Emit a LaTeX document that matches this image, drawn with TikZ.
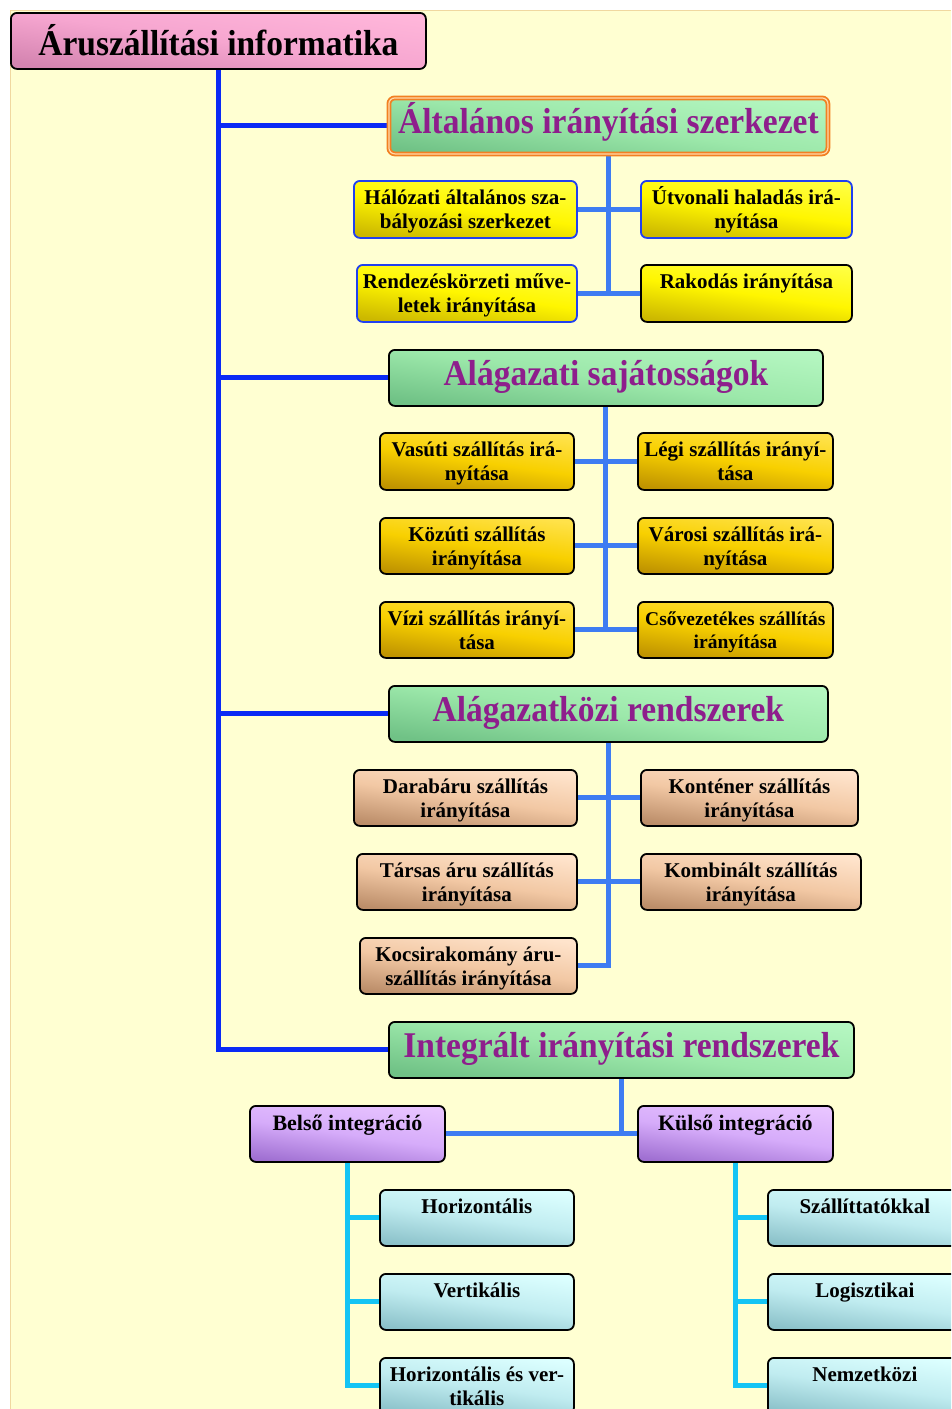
\documentclass[tikz,border=0pt]{standalone}
\usepackage{fontspec}
\setmainfont{Liberation Serif}
\definecolor{paper}{HTML}{FFFFD2}
\definecolor{paperedge}{HTML}{F0D8A0}
\definecolor{mainblue}{HTML}{0A2AF5}
\definecolor{subblue}{HTML}{3E7CF2}
\definecolor{cyanln}{HTML}{14C4F4}
\definecolor{edgeblue}{HTML}{2040F0}
\definecolor{headtxt}{HTML}{8E1E8C}
\definecolor{frameorange}{HTML}{F28022}
\definecolor{frameinner}{HTML}{FFD8A8}
\definecolor{pinkA}{HTML}{FFB6DA}
\definecolor{pinkM}{HTML}{F6A6D0}
\definecolor{pinkB}{HTML}{D484B0}
\definecolor{greenA}{HTML}{B4F6C0}
\definecolor{greenM}{HTML}{9CE8AA}
\definecolor{greenB}{HTML}{70C286}
\definecolor{ylwA}{HTML}{FFFF40}
\definecolor{ylwM}{HTML}{FFF600}
\definecolor{ylwB}{HTML}{CCB800}
\definecolor{goldA}{HTML}{FFE24A}
\definecolor{goldM}{HTML}{F8D000}
\definecolor{goldB}{HTML}{C09400}
\definecolor{tanA}{HTML}{FFE4CC}
\definecolor{tanM}{HTML}{F2C8A4}
\definecolor{tanB}{HTML}{BC8E6A}
\definecolor{lilacA}{HTML}{E8C4FF}
\definecolor{lilacM}{HTML}{D6ACFA}
\definecolor{lilacB}{HTML}{A070D2}
\definecolor{iceA}{HTML}{DCFFFF}
\definecolor{iceM}{HTML}{C0ECF0}
\definecolor{iceB}{HTML}{8CC2CA}
\pgfdeclarelayer{bg}
\pgfsetlayers{bg,main}
\newcommand{\firstline}{\rule{0pt}{20pt}}
\newcommand{\tall}[1]{\scalebox{1}[1.08]{#1}}
\begin{document}
\begin{tikzpicture}[x=1pt,y=-1pt,
  sz/.style 2 args={minimum width=#1pt, minimum height=#2pt},
  box/.style={rounded corners=6pt, line width=1.8pt, draw=black, inner sep=0pt, anchor=north west},
  grad/.style n args={3}{top color=#1, bottom color=#3, middle color=#2, shading angle=-8},
  titlebox/.style={box, grad={pinkA}{pinkM}{pinkB}, text height=30pt, text depth=0pt,
    font=\fontsize{33.5}{38}\selectfont\bfseries},
  headbox/.style={box, grad={greenA}{greenM}{greenB}, text height=22pt, text depth=6pt,
    text=headtxt, font=\fontsize{33.5}{38}\selectfont\bfseries},
  ylw/.style={box, draw=edgeblue, grad={ylwA}{ylwM}{ylwB}},
  gold/.style={box, grad={goldA}{goldM}{goldB}},
  tan/.style={box, grad={tanA}{tanM}{tanB}},
  lilac/.style={box, grad={lilacA}{lilacM}{lilacB}},
  ice/.style={box, grad={iceA}{iceM}{iceB}},
  lab/.style={anchor=north, inner sep=0pt, align=center,
    font=\fontsize{21}{24}\selectfont\bfseries},
  mainln/.style={draw=mainblue, line width=5pt},
  subln/.style={draw=subblue, line width=5pt},
  cyanl/.style={draw=cyanln, line width=5pt},
]
\clip (0,0) rectangle (951,1409);

% ---- root and the four main branches ----
\node[titlebox, sz={415}{56}] (title) at (10,12) {\tall{Áruszállítási informatika}};
\node[headbox, sz={439}{56}, draw=frameorange, line width=1.8pt,
      double=frameinner, double distance=1.2pt] (g1) at (388,97) {\tall{Általános irányítási szerkezet}};
\node[headbox, sz={434}{56}] (g2) at (388,349) {\tall{Alágazati sajátosságok}};
\node[headbox, sz={439}{56}] (g3) at (388,685) {\tall{Alágazatközi rendszerek}};
\node[headbox, sz={465}{56}] (g4) at (388,1021) {\tall{Integrált irányítási rendszerek}};

% ---- general control structure ----
\node[ylw, sz={223}{57}] (a1) at (353,180) {};
\node[ylw, sz={211}{57}] (a2) at (640,180) {};
\node[ylw, sz={220}{57}] (a3) at (356,264) {};
\node[ylw, draw=black, sz={211}{57}] (a4) at (640,264) {};
\node[lab] (a1t) at ([yshift=-4pt]a1.north) {\firstline Hálózati általános sza-\\bályozási szerkezet};
\node[lab] (a2t) at ([yshift=-4pt]a2.north) {\firstline Útvonali haladás irá-\\nyítása};
\node[lab] (a3t) at ([yshift=-4pt]a3.north) {\firstline Rendezéskörzeti műve-\\letek irányítása};
\node[lab] (a4t) at ([yshift=-4pt]a4.north) {\firstline Rakodás irányítása};

% ---- sector specifics ----
\node[gold, sz={194}{57}] (b1) at (379,432) {};
\node[gold, sz={195}{57}] (b2) at (637,432) {};
\node[gold, sz={194}{56}] (b3) at (379,517) {};
\node[gold, sz={195}{56}] (b4) at (637,517) {};
\node[gold, sz={194}{56}] (b5) at (379,601) {};
\node[gold, sz={195}{56}] (b6) at (637,601) {};
\node[lab] (b1t) at ([yshift=-4pt]b1.north) {\firstline Vasúti szállítás irá-\\nyítása};
\node[lab] (b2t) at ([yshift=-4pt]b2.north) {\firstline Légi szállítás irányí-\\tása};
\node[lab] (b3t) at ([yshift=-4pt]b3.north) {\firstline Közúti szállítás\\irányítása};
\node[lab] (b4t) at ([yshift=-4pt]b4.north) {\firstline Városi szállítás irá-\\nyítása};
\node[lab] (b5t) at ([yshift=-4pt]b5.north) {\firstline Vízi szállítás irányí-\\tása};
\node[lab, font=\fontsize{19.5}{23}\selectfont\bfseries] (b6t) at ([yshift=-4pt]b6.north)
  {\firstline Csővezetékes szállítás\\irányítása};

% ---- cross-sector systems ----
\node[tan, sz={223}{56}] (c1) at (353,769) {};
\node[tan, sz={217}{56}] (c2) at (640,769) {};
\node[tan, sz={220}{56}] (c3) at (356,853) {};
\node[tan, sz={220}{56}] (c4) at (640,853) {};
\node[tan, sz={217}{56}] (c5) at (359,937) {};
\node[lab] (c1t) at ([yshift=-4pt]c1.north) {\firstline Darabáru szállítás\\irányítása};
\node[lab] (c2t) at ([yshift=-4pt]c2.north) {\firstline Konténer szállítás\\irányítása};
\node[lab] (c3t) at ([yshift=-4pt]c3.north) {\firstline Társas áru szállítás\\irányítása};
\node[lab] (c4t) at ([yshift=-4pt]c4.north) {\firstline Kombinált szállítás\\irányítása};
\node[lab] (c5t) at ([yshift=-4pt]c5.north) {\firstline Kocsirakomány áru-\\szállítás irányítása};

% ---- integrated systems ----
\node[lilac, sz={195}{56}] (d1) at (249,1105) {};
\node[lilac, sz={195}{56}] (d2) at (637,1105) {};
\node[lab, font=\fontsize{22}{25}\selectfont\bfseries] (d1t) at ([yshift=-5pt]d1.north) {\firstline Belső integráció};
\node[lab, font=\fontsize{22}{25}\selectfont\bfseries] (d2t) at ([yshift=-5pt]d2.north) {\firstline Külső integráció};

\node[ice, sz={194}{56}] (e1) at (379,1189) {};
\node[ice, sz={194}{56}] (e2) at (379,1273) {};
\node[ice, sz={194}{56}] (e3) at (379,1357) {};
\node[ice, sz={194}{56}] (f1) at (767,1189) {};
\node[ice, sz={194}{56}] (f2) at (767,1273) {};
\node[ice, sz={194}{56}] (f3) at (767,1357) {};
\node[lab] (e1t) at ([yshift=-4pt]e1.north) {\firstline Horizontális};
\node[lab] (e2t) at ([yshift=-4pt]e2.north) {\firstline Vertikális};
\node[lab] (e3t) at ([yshift=-4pt]e3.north) {\firstline Horizontális és ver-\\tikális};
\node[lab] (f1t) at ([yshift=-4pt]f1.north) {\firstline Szállíttatókkal};
\node[lab] (f2t) at ([yshift=-4pt]f2.north) {\firstline Logisztikai};
\node[lab] (f3t) at ([yshift=-4pt]f3.north) {\firstline Nemzetközi};

% ---- page and connectors, kept underneath the boxes ----
\begin{pgfonlayer}{bg}
  \fill[paper] (10,10) rectangle (951,1409);
  \draw[paperedge, line width=1pt] (10,1409) -- (10,10) -- (951,10);

  \draw[mainln] (title.south) -- (title.south |- g4.west) -- (g4.west);
  \foreach \g in {g1,g2,g3} \draw[mainln] (title.south |- \g.west) -- (\g.west);

  \draw[subln] (g1.south) -- (g1.south |- a3.east);
  \draw[subln] (a1.east) -- (a2.west);
  \draw[subln] (a3.east) -- (a4.west);

  \draw[subln] (g2.south) -- (g2.south |- b5.east);
  \draw[subln] (b1.east) -- (b2.west);
  \draw[subln] (b3.east) -- (b4.west);
  \draw[subln] (b5.east) -- (b6.west);

  \draw[subln] (g3.south) -- (g3.south |- c5.east) -- (c5.east);
  \draw[subln] (c1.east) -- (c2.west);
  \draw[subln] (c3.east) -- (c4.west);

  \draw[subln] (g4.south) -- (g4.south |- d1.east);
  \draw[subln] (d1.east) -- (d2.west);

  \draw[cyanl] (d1.south) -- (d1.south |- e3.west) -- (e3.west);
  \draw[cyanl] (d1.south |- e1.west) -- (e1.west);
  \draw[cyanl] (d1.south |- e2.west) -- (e2.west);
  \draw[cyanl] (d2.south) -- (d2.south |- f3.west) -- (f3.west);
  \draw[cyanl] (d2.south |- f1.west) -- (f1.west);
  \draw[cyanl] (d2.south |- f2.west) -- (f2.west);
\end{pgfonlayer}
\end{tikzpicture}
\end{document}
